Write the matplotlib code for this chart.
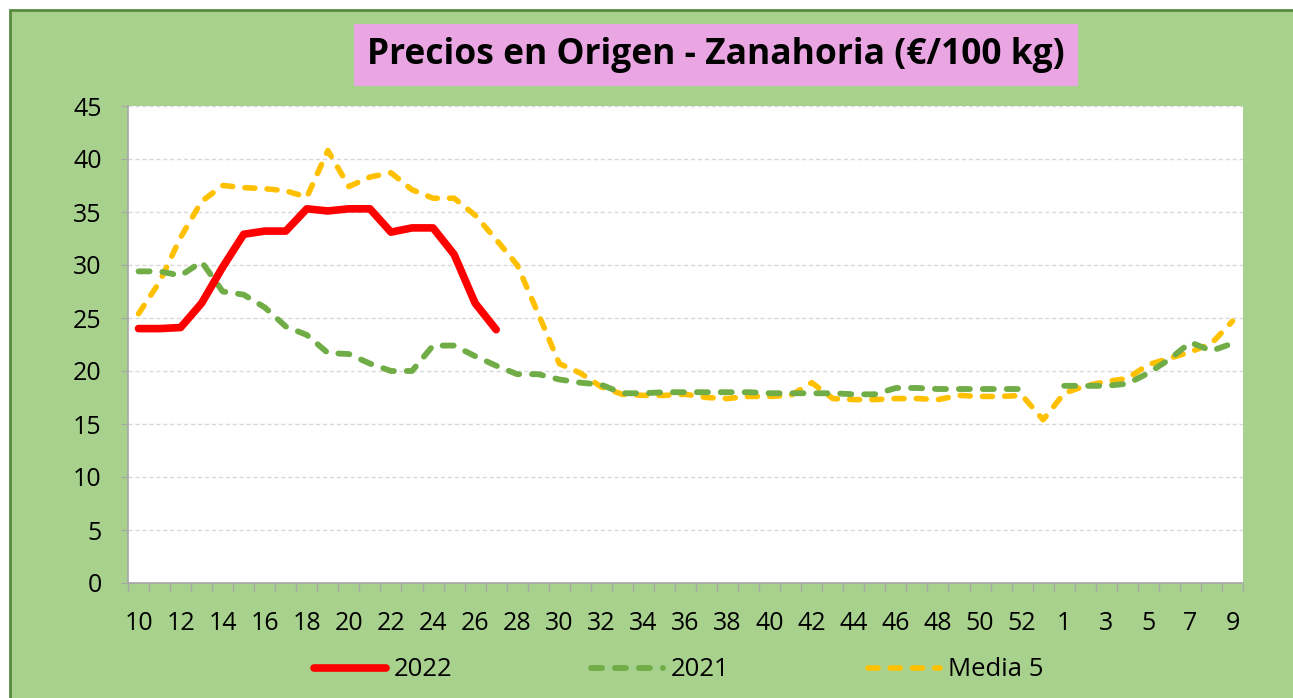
import numpy as np
import matplotlib
matplotlib.use("Agg")
import matplotlib.pyplot as plt
from matplotlib.patches import Rectangle
from matplotlib.lines import Line2D

"""
Data (weeks 10..53 of one year, then 1..9 of the next)
"""
weeks = list(range(10, 54)) + list(range(1, 10))

precio_2022 = [24.0, 24.0, 24.1, 26.4, 29.8, 32.9, 33.2, 33.2, 35.3, 35.1,
               35.3, 35.3, 33.1, 33.5, 33.5, 31.0, 26.4, 23.9]

precio_2021 = [29.4, 29.4, 29.0, 30.3, 27.5, 27.2, 26.0, 24.2, 23.4, 21.7,
               21.6, 20.7, 20.0, 20.0, 22.4, 22.4, 21.4, 20.5, 19.7, 19.7,
               19.2, 18.9, 18.7, 17.9, 17.9, 18.0, 18.0, 18.0, 18.0, 18.0,
               17.9, 17.9, 17.9, 17.9, 17.8, 17.8, 18.4, 18.4, 18.3, 18.3,
               18.3, 18.3, 18.3, np.nan, 18.6, 18.6, 18.6, 18.8, 19.8, 21.1,
               22.7, 21.9, 22.6]

media_5 = [25.4, 28.4, 32.6, 36.0, 37.5, 37.3, 37.2, 37.0, 36.4, 40.8,
           37.4, 38.3, 38.7, 37.1, 36.3, 36.3, 34.7, 32.4, 30.0, 25.4,
           20.7, 19.8, 18.5, 17.8, 17.7, 17.7, 17.8, 17.5, 17.4, 17.6,
           17.6, 17.7, 18.9, 17.4, 17.3, 17.3, 17.4, 17.4, 17.3, 17.7,
           17.6, 17.6, 17.7, 15.4, 17.9, 18.6, 19.0, 19.3, 20.6, 21.2,
           21.8, 22.6, 24.7]

title = "Precios en Origen - Zanahoria (€/100 kg)"
series_names = ["2022", "2021", "Media 5"]

"""
Styling
"""
BG_GREEN = "#A9D18E"
RED = "#FF0000"
GREEN = "#70AD47"
YELLOW = "#FFC000"
PINK = "#EAA6E3"
FONT = ["Open Sans", "DejaVu Sans"]

plt.rcParams["font.family"] = FONT

W, H = 1293, 698
fig = plt.figure(figsize=(W / 100, H / 100), dpi=100, facecolor="white")

# green chart area with dark border, on a background axes
bg = fig.add_axes([0, 0, 1, 1], zorder=-10)
bg.set_axis_off()
bg.set_xlim(0, W)
bg.set_ylim(H, 0)
bg.add_patch(Rectangle((10, 10), W, H, facecolor=BG_GREEN,
                       edgecolor="#5A8A3C", linewidth=2))

ax = fig.add_axes([128 / W, 1 - 583 / H, (1243 - 128) / W, (583 - 106) / H])
ax.set_facecolor("white")

x = np.arange(len(weeks))
n22 = len(precio_2022)

ax.plot(x[:n22], precio_2022, color=RED, lw=5.5, solid_capstyle="round",
        solid_joinstyle="round", zorder=5)
ax.plot(x, precio_2021, color=GREEN, lw=4.2, linestyle=(0, (1.9, 2.2)),
        dash_capstyle="round", zorder=4)
ax.plot(x, media_5, color=YELLOW, lw=4.0, linestyle=(0, (1.8, 2.2)),
        dash_capstyle="round", zorder=3)

ax.set_ylim(0, 45)
ax.set_xlim(-0.5, len(weeks) - 0.5)
ax.set_yticks(np.arange(0, 46, 5))
ax.yaxis.grid(True, color="#D9D9D9", linestyle=(0, (3, 2)), linewidth=1)
ax.set_axisbelow(True)

# category boundary ticks, labels on every other week
ax.set_xticks(np.arange(-0.5, len(weeks), 1.0), minor=True)
ax.set_xticks(x[::2])
ax.set_xticklabels([str(w) for w in weeks[::2]])
ax.tick_params(axis="x", which="major", length=0, pad=20, labelsize=18)
ax.tick_params(axis="x", which="minor", length=6, color="#A6A6A6", width=1)
ax.tick_params(axis="y", length=5, color="#A6A6A6", pad=14, labelsize=18)

for side in ["top", "right"]:
    ax.spines[side].set_visible(False)
for side in ["left", "bottom"]:
    ax.spines[side].set_color("#A6A6A6")
    ax.spines[side].set_linewidth(1.2)

fig.text(716 / W, 1 - 55 / H, title, ha="center", va="center",
         fontsize=25.5, fontweight="bold", color="black",
         bbox=dict(boxstyle="square,pad=0.36", facecolor=PINK, edgecolor="none"))

handles = [
    Line2D([], [], color=RED, lw=5.5, solid_capstyle="round"),
    Line2D([], [], color=GREEN, lw=4.2, linestyle=(0, (1.9, 2.2)), dash_capstyle="round"),
    Line2D([], [], color=YELLOW, lw=4.0, linestyle=(0, (1.8, 2.2)), dash_capstyle="round"),
]
fig.legend(handles, series_names, loc="center", bbox_to_anchor=(0.525, 1 - 670 / H),
           ncol=3, frameon=False, fontsize=18.5, handlelength=2.8,
           handletextpad=0.3, columnspacing=5.4)

fig.savefig("out.png", dpi=100, facecolor=fig.get_facecolor())
